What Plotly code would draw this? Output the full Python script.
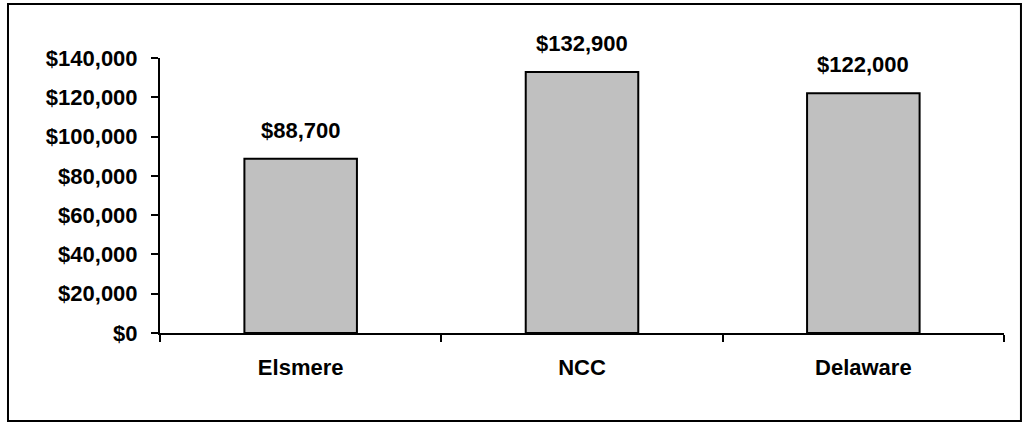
import plotly.graph_objects as go

# Median household income by area
areas = ["Elsmere", "NCC", "Delaware"]
incomes = [88700, 132900, 122000]
y_ticks = [0, 20000, 40000, 60000, 80000, 100000, 120000, 140000]
y_tick_labels = [f"${v:,}" for v in y_ticks]

FONT = dict(family="Arial, Liberation Sans, sans-serif", size=22, color="black", weight="bold")

fig = go.Figure()
fig.add_trace(go.Bar(
    x=areas,
    y=incomes,
    marker=dict(color="#C0C0C0", line=dict(color="black", width=2)),
    width=0.4,
    hoverinfo="skip",
))

# value labels above each bar
for a, v in zip(areas, incomes):
    fig.add_annotation(
        x=a, y=v, text=f"${v:,}", showarrow=False,
        yanchor="bottom", yshift=14, font=FONT,
    )

# outer frame around the whole chart
fig.add_shape(
    type="rect", xref="paper", yref="paper",
    x0=-0.1801, x1=1.0201, y0=-0.32, y1=1.1964,
    line=dict(color="black", width=2), fillcolor="rgba(0,0,0,0)",
)

fig.update_layout(
    width=1029, height=423,
    margin=dict(l=160, r=25, t=58, b=90),
    paper_bgcolor="white", plot_bgcolor="white",
    showlegend=False,
    font=FONT,
)
fig.update_xaxes(
    type="category",
    showline=True, linecolor="black", linewidth=2,
    ticks="outside", tickson="boundaries", ticklen=7, tickwidth=2, tickcolor="black",
    showgrid=False, zeroline=False,
    tickfont=FONT, ticklabelstandoff=14,
)
fig.update_yaxes(
    range=[0, 140000],
    tickvals=y_ticks, ticktext=y_tick_labels,
    showline=True, linecolor="black", linewidth=2,
    ticks="outside", ticklen=7, tickwidth=2, tickcolor="black",
    showgrid=False, zeroline=False,
    tickfont=FONT, ticklabelstandoff=9,
)

fig.write_html("out.html")
